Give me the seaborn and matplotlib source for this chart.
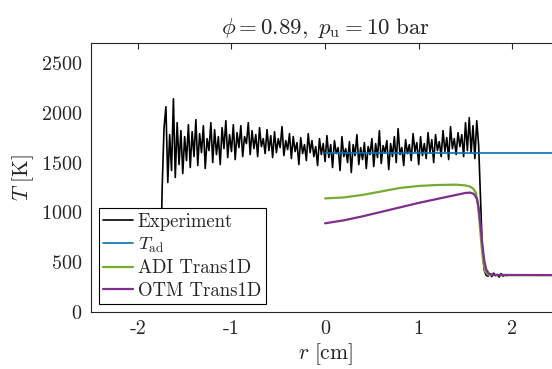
import numpy as np
import matplotlib
matplotlib.use("Agg")
import matplotlib.pyplot as plt
import seaborn as sns

r_exp = np.round(np.arange(-1.76, 1.9401, 0.02), 2)
T_exp = [250,
         1250, 1850, 2060, 1300, 1780, 1420, 2140, 1350, 1900, 1480,
         1820, 1390, 1760, 1520, 1880, 1450, 1810, 1560, 1930, 1470,
         1790, 1600, 1870, 1440, 1740, 1620, 1900, 1500, 1830, 1580,
         1760, 1480, 1850, 1640, 1920, 1550, 1780, 1610, 1880, 1530,
         1800, 1650, 1870, 1560, 1760, 1690, 1900, 1580, 1820, 1640,
         1780, 1560, 1850, 1660, 1740, 1590, 1830, 1620, 1770, 1550,
         1810, 1600, 1740, 1650, 1860, 1570, 1720, 1630, 1790, 1540,
         1760, 1610, 1700, 1480, 1750, 1590, 1680, 1520, 1790, 1600,
         1720, 1560, 1660, 1470, 1740, 1580, 1690, 1510, 1770, 1550,
         1680, 1450, 1720, 1590, 1650, 1420, 1760, 1560, 1640, 1500,
         1710, 1400, 1680, 1570, 1780, 1480, 1650, 1530, 1700, 1440,
         1660, 1580, 1740, 1460, 1690, 1550, 1820, 1490, 1670, 1600,
         1720, 1430, 1690, 1560, 1760, 1500, 1840, 1580, 1650, 1470,
         1730, 1590, 1680, 1520, 1790, 1610, 1700, 1480, 1760, 1570,
         1690, 1540, 1800, 1600, 1730, 1500, 1780, 1620, 1710, 1560,
         1820, 1610, 1750, 1530, 1860, 1640, 1740, 1580, 1800, 1660,
         1780, 1560, 1900, 1620, 1950, 1600, 1870, 1540, 1920, 1680,
         1150, 620, 420, 370, 360,
         380, 355, 390, 365, 375, 350, 385, 360, 372, 365]

# adiabatic flame temperature
r_ad = [0.0, 2.5]
T_ad = [1600, 1600]

# Trans1D simulations
r_adi = [0.0, 0.2, 0.4, 0.6, 0.8, 1.0, 1.2, 1.4, 1.5, 1.55, 1.58, 1.61, 1.63,
         1.65, 1.67, 1.69, 1.71, 1.74, 1.8, 2.5]
T_adi = [1140, 1150, 1175, 1210, 1245, 1265, 1275, 1278, 1270, 1258, 1240, 1200, 1100,
         900, 680, 500, 410, 375, 370, 370]
r_otm = [0.0, 0.2, 0.4, 0.6, 0.8, 1.0, 1.2, 1.4, 1.5, 1.55, 1.59, 1.62, 1.64,
         1.66, 1.68, 1.70, 1.72, 1.75, 1.8, 2.5]
T_otm = [890, 920, 960, 1005, 1050, 1095, 1135, 1175, 1195, 1198, 1185, 1140, 1050,
         880, 680, 520, 430, 385, 372, 370]

xticks = [-2, -1, 0, 1, 2]
xticklabels = ['-2', '-1', '0', '1', '2']
yticks = [0, 500, 1000, 1500, 2000, 2500]

sns.set_style('white')
plt.rcParams['font.family'] = 'serif'
plt.rcParams['font.serif'] = ['cmr10']
plt.rcParams['mathtext.fontset'] = 'cm'
plt.rcParams['axes.unicode_minus'] = False
plt.rcParams['axes.formatter.use_mathtext'] = True

fig = plt.figure(figsize=(5.52, 3.69), dpi=100)
ax = fig.add_axes([0.1649, 0.1545, 0.848, 0.729])

sns.lineplot(x=r_exp, y=T_exp, ax=ax, color='black', lw=1.2, label='Experiment',
             estimator=None, sort=False)
sns.lineplot(x=r_ad, y=T_ad, ax=ax, color=(0, 0.447, 0.741), lw=1.2,
             label=r'$T_\mathrm{ad}$', estimator=None)
sns.lineplot(x=r_adi, y=T_adi, ax=ax, color=(0.466, 0.674, 0.188), lw=1.6,
             label='ADI Trans1D', estimator=None)
sns.lineplot(x=r_otm, y=T_otm, ax=ax, color=(0.494, 0.184, 0.556), lw=1.6,
             label='OTM Trans1D', estimator=None)

ax.set_xlim(-2.5, 2.5)
ax.set_ylim(0, 2700)
ax.set_xticks(xticks)
ax.set_xticklabels(xticklabels)
ax.set_yticks(yticks)
ax.tick_params(direction='in', length=4, width=0.8, labelsize=14.5, colors='0.15',
               top=True, right=False, pad=6)
for s in ax.spines.values():
    s.set_color('0.15')
    s.set_linewidth(0.8)

ax.set_xlabel(r'$r\ [\mathrm{cm}]$', fontsize=15.5, labelpad=2)
ax.set_ylabel(r'$T\ [\mathrm{K}]$', fontsize=15.5, labelpad=4)
ax.set_title(r'$\phi = 0.89,\ p_\mathrm{u} = 10\ \mathrm{bar}$', fontsize=16.5, pad=7)

leg = ax.legend(loc='lower left', fontsize=13.5, frameon=True, fancybox=False,
                edgecolor='black', framealpha=1, borderaxespad=0.4,
                handlelength=1.6, handletextpad=0.25, labelspacing=0.25,
                borderpad=0.25)
leg.get_frame().set_linewidth(0.8)

fig.savefig('out.png', dpi=100)
